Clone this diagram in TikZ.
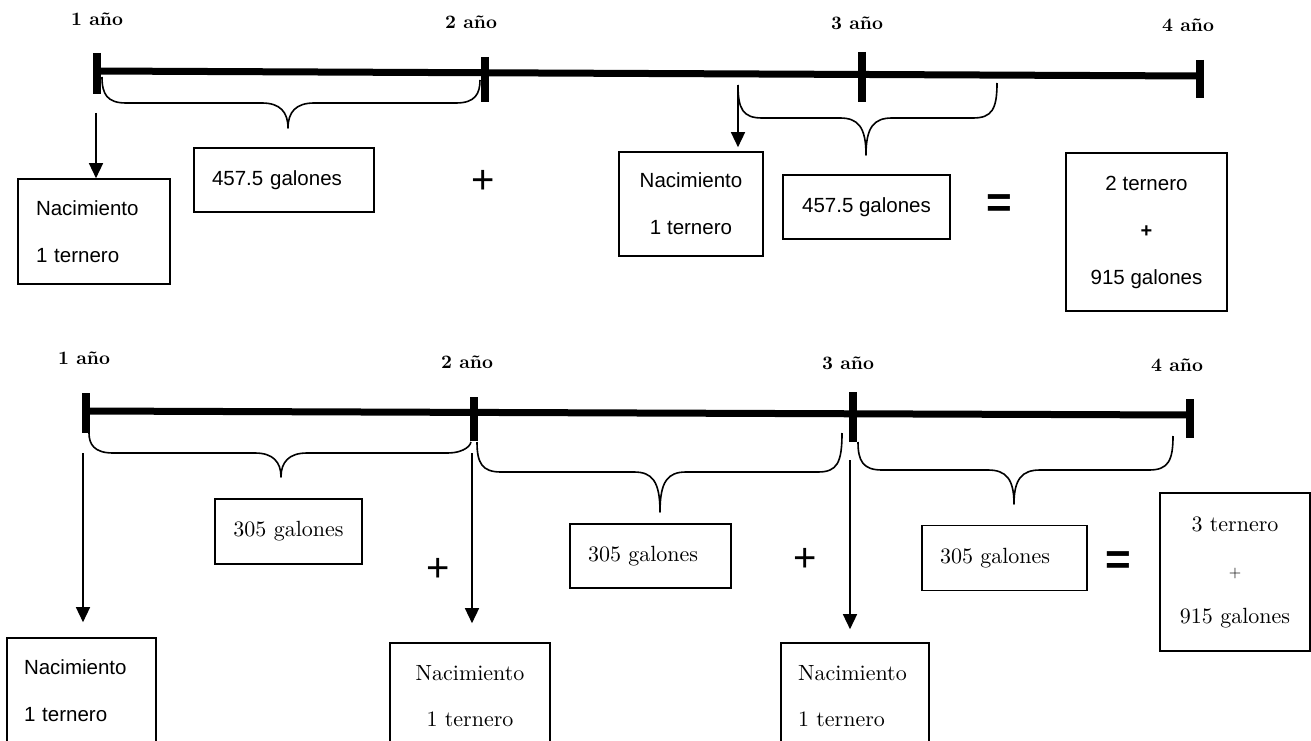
\documentclass[tikz,border=0pt]{standalone}
\usepackage{fontspec}
\setmainfont{lmroman10}[Extension=.otf, UprightFont=*-regular, BoldFont=*-bold,
  ItalicFont=*-italic, BoldItalicFont=*-bolditalic]
\setsansfont{Liberation Sans}
\usetikzlibrary{arrows.meta}
\newcommand{\mybrace}[7]{% x1 y1 x2 y2 yh xt yt
  \draw[brace] (#1,#2) .. controls (#1,{#5-9}) and ({#1+5},#5) .. ({#1+24},#5)
    -- ({#6-26},#5) .. controls ({#6-8},#5) and (#6,{#5+9}) .. (#6,#7)
    .. controls (#6,{#5+9}) and ({#6+8},#5) .. ({#6+26},#5)
    -- ({#3-24},#5) .. controls ({#3-5},#5) and (#3,{#5-9}) .. (#3,#4);}
\begin{document}
\begin{tikzpicture}[x=1pt,y=-1pt,
  tline/.style={line width=7pt},
  tickmark/.style={line width=7.5pt},
  brace/.style={line width=1.6pt, line join=round},
  arr/.style={line width=1.4pt, -{Triangle[length=15pt,width=14pt]}},
  box/.style={draw, line width=1.6pt, inner sep=0pt},
  sanstxt/.style={font=\sffamily\fontsize{20.5}{47}\selectfont},
  sertxt/.style={font=\rmfamily\fontsize{22}{46}\selectfont},
  yr/.style={font=\rmfamily\bfseries\fontsize{19}{23}\selectfont, inner sep=0pt},
  opsym/.style={font=\sffamily\fontsize{40}{40}\selectfont, inner sep=0pt},
  eqsym/.style={font=\sffamily\bfseries\fontsize{44}{44}\selectfont, inner sep=0pt},
]
\useasboundingbox (0,0) rectangle (1311,741);
\clip (0,0) rectangle (1311,741);

% ================= TOP =================
\node[yr] (ty1) at (97,19) {1 año};
\node[yr] (ty2) at (471,22) {2 año};
\node[yr] (ty3) at (857,23) {3 año};
\node[yr] (ty4) at (1188,25) {4 año};

\coordinate (tl1) at (97,71);
\coordinate (tl4) at (1200,76);
\draw[tline] (tl1) -- (tl4);
\draw[tickmark] (97,53) -- (97,94);
\draw[tickmark] (485,57) -- (485,102);
\draw[tickmark] (862,52) -- (862,102);
\draw[tickmark] (1200,60) -- (1200,98);

\mybrace{102}{77}{480}{80}{103}{288}{128}
\mybrace{738}{85}{997}{83}{118}{866}{155}

\node[box, sanstxt, minimum width=152pt, minimum height=105pt, text width=116pt,
      align=left, inner xsep=18pt] (tn1) at (94,231.5) {Nacimiento\\1 ternero};
\node[box, sanstxt, minimum width=180pt, minimum height=64pt, text width=144pt,
      align=left, inner xsep=18pt] (tg1) at (284,180) {457.5 galones};
\node[opsym] (tp1) at (483,182) {+};
\node[box, sanstxt, minimum width=144pt, minimum height=104pt, align=center] (tn2) at (691,204) {Nacimiento\\1 ternero};
\node[box, sanstxt, minimum width=167pt, minimum height=64pt, align=center] (tg2) at (866.5,207) {457.5 galones};
\node[eqsym] (te1) at (999,206) {=};
\node[box, sanstxt, minimum width=161pt, minimum height=158pt, align=center] (tf) at (1146.5,232)
  {2 ternero\\{\bfseries\fontsize{20}{47}\selectfont +}\\915 galones};

\coordinate (ta1) at (96,113);
\coordinate (ta2) at (738,85);
\draw[arr] (ta1) -- (ta1 |- tn1.north);
\draw[arr, shorten >=4pt] (ta2) -- (ta2 |- tn2.north);

% ================= BOTTOM =================
\node[yr] (by1) at (84,358) {1 año};
\node[yr] (by2) at (467,362) {2 año};
\node[yr] (by3) at (848,363) {3 año};
\node[yr] (by4) at (1177,365) {4 año};

\coordinate (bl1) at (86,411);
\coordinate (bl4) at (1190,415);
\draw[tline] (bl1) -- (bl4);
\draw[tickmark] (86,393) -- (86,433);
\draw[tickmark] (474,397) -- (474,441);
\draw[tickmark] (853,392) -- (853,442);
\draw[tickmark] (1190,399) -- (1190,438);

\mybrace{89}{433}{471}{442}{453}{281}{477}
\mybrace{477}{442}{842}{433}{472}{660}{512}
\mybrace{858}{442}{1173}{436}{470}{1014}{504}

\node[box, sanstxt, minimum width=149pt, minimum height=106pt, text width=115pt,
      align=left, inner xsep=17pt] (bn1) at (81.5,691) {Nacimiento\\1 ternero};
\node[box, sertxt, minimum width=147pt, minimum height=65pt, align=center] (bg1) at (288.5,531.5) {305 galones};
\node[opsym] (bp1) at (438,570) {+};
\node[box, sertxt, minimum width=160pt, minimum height=106pt, align=center] (bn2) at (470,696) {Nacimiento\\1 ternero};
\node[box, sertxt, minimum width=161pt, minimum height=64pt, text width=125pt,
      align=left, inner xsep=18pt] (bg2) at (650.5,556) {305 galones};
\node[opsym] (bp2) at (805,560) {+};
\node[box, sertxt, minimum width=148pt, minimum height=106pt, text width=114pt,
      align=left, inner xsep=17pt] (bn3) at (855,696) {Nacimiento\\1 ternero};
\node[box, sertxt, minimum width=165pt, minimum height=65pt, text width=129pt,
      align=left, inner xsep=18pt] (bg3) at (1004.5,558) {305 galones};
\node[eqsym] (be1) at (1118,563) {=};
\node[box, sertxt, minimum width=150pt, minimum height=158pt, align=center] (bf) at (1235,572)
  {3 ternero\\{\fontsize{16}{46}\selectfont +}\\915 galones};

\coordinate (ba1) at (83,453);
\coordinate (ba2) at (472,453);
\coordinate (ba3) at (850,460);
\draw[arr, shorten >=15pt] (ba1) -- (ba1 |- bn1.north);
\draw[arr, shorten >=19pt] (ba2) -- (ba2 |- bn2.north);
\draw[arr, shorten >=13pt] (ba3) -- (ba3 |- bn3.north);
\end{tikzpicture}
\end{document}
